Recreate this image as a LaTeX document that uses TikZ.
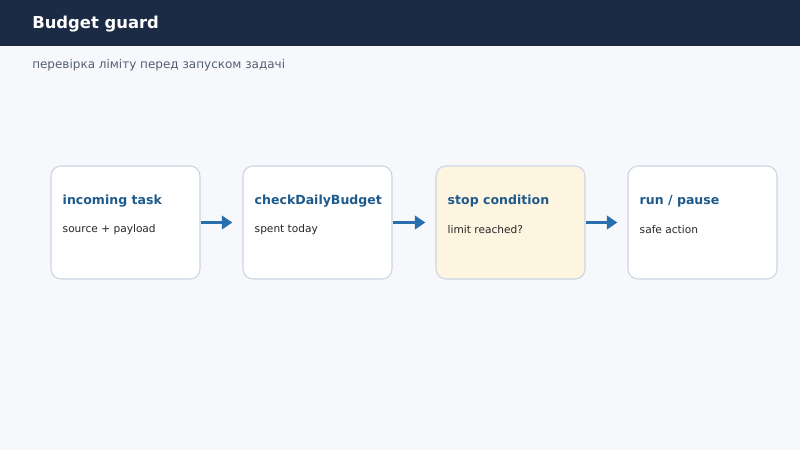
\documentclass[tikz,border=0pt]{standalone}
\usepackage{fontspec}
\setmainfont{DejaVu Sans}
\definecolor{cnavy}{HTML}{1B2A45}
\definecolor{cpage}{HTML}{F6F8FC}
\definecolor{cedge}{HTML}{CBD5E1}
\definecolor{cblue}{HTML}{1E5A8C}
\definecolor{carrow}{HTML}{2A6FAD}
\definecolor{ccream}{HTML}{FEF5E0}
\definecolor{csub}{HTML}{555F6E}
\usetikzlibrary{arrows.meta}
\tikzset{px/.style={x=0.75pt,y=-0.75pt},
  stage/.style={draw=cedge,line width=0.8pt,fill=white,rounded corners=7.5pt,
    minimum width=111.75pt,minimum height=84.75pt,inner sep=0pt},
  stagetitle/.style={anchor=west,inner sep=0pt,font=\bfseries\fontsize{9.4}{12}\selectfont,text=cblue},
  stagenote/.style={anchor=west,inner sep=0pt,font=\fontsize{7.95}{10}\selectfont,text=black!85},
  flow/.style={draw=carrow,line width=2.3pt,-{Triangle[length=8pt,width=10pt]},shorten >=7.5pt}}

\begin{document}
\begin{tikzpicture}[px]
    \fill[cpage] (0,0) rectangle (800,450);
    \fill[cnavy] (0,0) rectangle (800,46);
    \node[anchor=west,inner sep=0pt,text=white,font=\bfseries\fontsize{12.3}{15}\selectfont] (title) at (32,24.5) {Budget guard};
    \node[anchor=west,inner sep=0pt,text=csub,font=\fontsize{9}{12}\selectfont] (subtitle) at (32,65.5) {перевірка ліміту перед запуском задачі};
    % the four stages
    \foreach \name/\x/\head/\note/\bg in {task/125.5/incoming task/source + payload/white,
        check/317.5/checkDailyBudget/spent today/white,
        stop/510.5/stop condition/limit reached?/ccream,
        run/702.5/{run / pause}/safe action/white} {
      \node[stage,fill=\bg] (\name) at (\x,222.5) {};
      \node[stagetitle] (\name-head) at ([shift={(12,35.5)}]\name.north west) {\head};
      \node[stagenote] (\name-note) at ([shift={(12,64.5)}]\name.north west) {\note};
    }
    \foreach \a/\b in {task/check,check/stop,stop/run}
      \draw[flow] (\a) -- (\b);
  \end{tikzpicture}
\end{document}
